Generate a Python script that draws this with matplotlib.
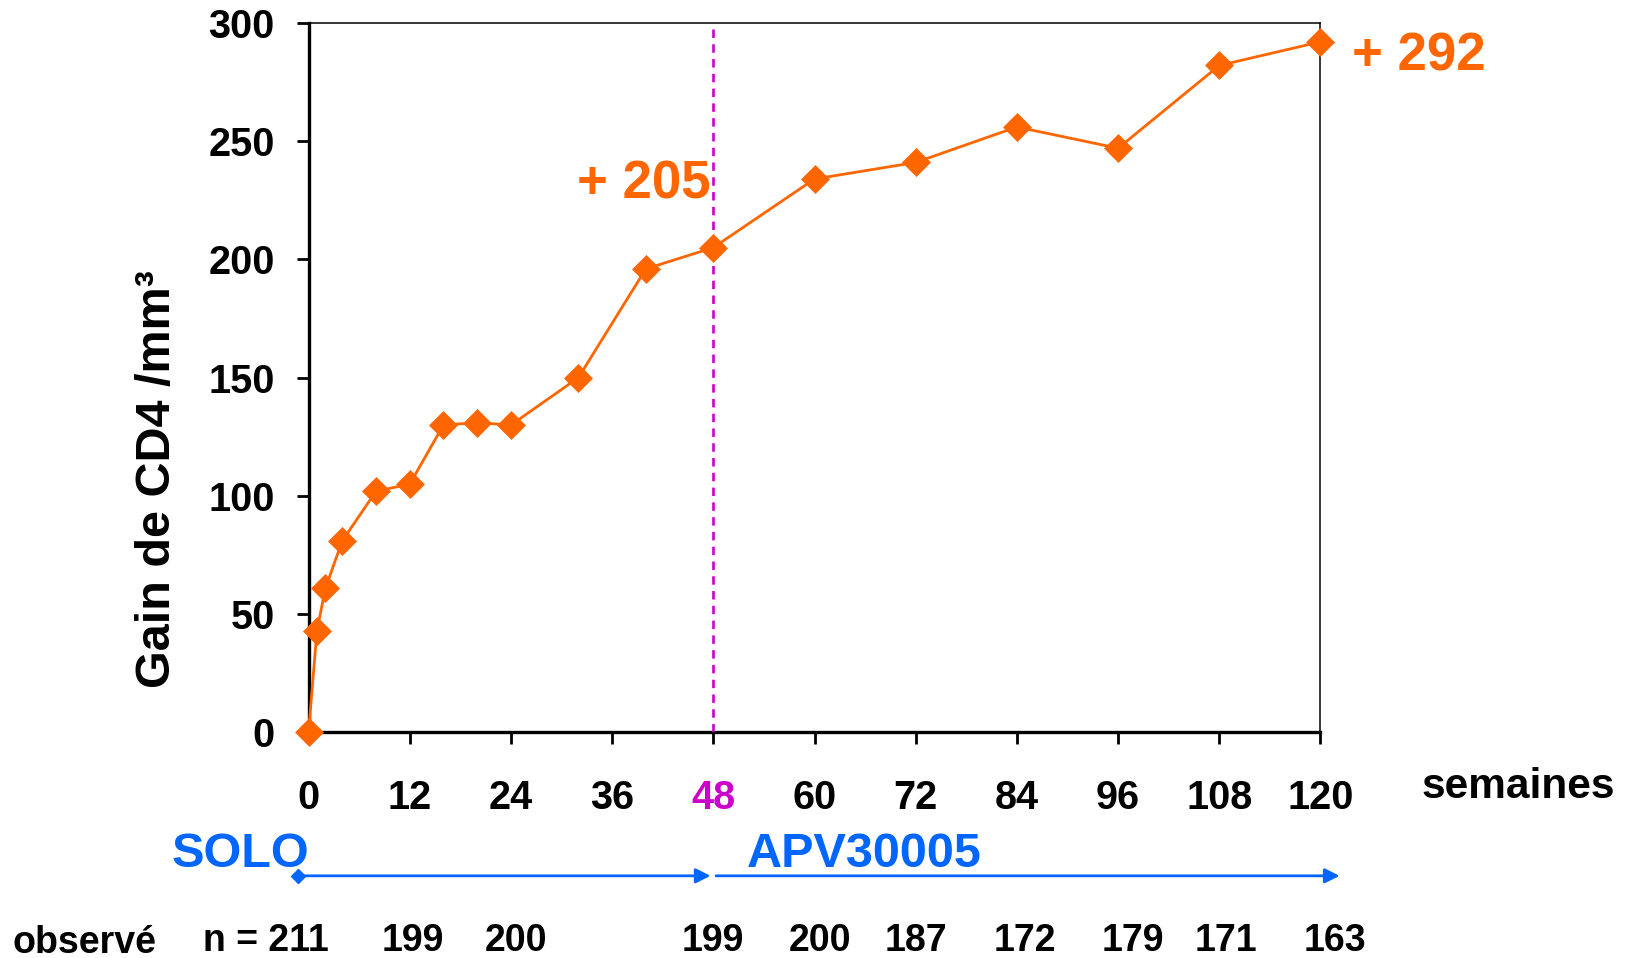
import numpy as np
import matplotlib
matplotlib.use("Agg")
import matplotlib.pyplot as plt
import matplotlib.transforms as mtransforms

plt.rcParams['font.family'] = ['Liberation Sans', 'DejaVu Sans']
plt.rcParams['font.weight'] = 'bold'

# gain de CD4 par semaine
weeks = [0, 1, 2, 4, 8, 12, 16, 20, 24, 32, 40, 48, 60, 72, 84, 96, 108, 120]
gain = [0, 43, 61, 81, 102, 105, 130, 131, 130, 150, 196, 205, 234, 241, 256, 247, 282, 292]

xticks = [0, 12, 24, 36, 48, 60, 72, 84, 96, 108, 120]
yticks = [0, 50, 100, 150, 200, 250, 300]

# effectifs observes
n_labels = ["n = 211", "199", "200", "199", "200", "187", "172", "179", "171", "163"]
n_xpos = [-5, 12.4, 24.6, 47.9, 60.7, 72, 84.9, 97.7, 108.8, 121.7]

orange = '#FF6600'
blue = '#0066FF'
magenta = '#CC00CC'

fig = plt.figure(figsize=(16.29, 9.58), dpi=100)
ax = fig.add_axes([0.1894, 0.2354, 0.6212, 0.7407])

ax.plot(weeks, gain, color=orange, lw=2, marker='D', ms=14,
        mec=orange, mew=0.5, clip_on=False, zorder=5)
ax.axvline(48, color=magenta, ls=(0, (3.2, 2.4)), lw=1.9, zorder=3)

ax.set_xlim(0, 120)
ax.set_ylim(0, 300)
ax.set_xticks(xticks)
ax.set_yticks(yticks)
ax.tick_params(axis='both', direction='out', length=8.5, width=2,
               labelsize=28.5, color='black')
ax.tick_params(axis='x', pad=25)
ax.tick_params(axis='y', pad=16)
for lab in ax.get_xticklabels():
    lab.set_fontweight('bold')
    if lab.get_text() == '48':
        lab.set_color(magenta)
for lab in ax.get_yticklabels():
    lab.set_fontweight('bold')

ax.spines['left'].set_linewidth(2.4)
ax.spines['bottom'].set_linewidth(2.4)
ax.spines['top'].set_linewidth(1.1)
ax.spines['right'].set_linewidth(1.1)

ax.text(-0.149, 0.357, 'Gain de CD4 /mm³', fontsize=35, fontweight='bold',
        rotation=90, ha='center', va='center', transform=ax.transAxes)

ax.text(39.7, 231.5, '+ 205', color=orange, fontsize=38, fontweight='bold',
        ha='center', va='center')
ax.text(131.7, 286, '+ 292', color=orange, fontsize=38, fontweight='bold',
        ha='center', va='center', clip_on=False)

trans = mtransforms.blended_transform_factory(ax.transData, ax.transAxes)
ax.text(143.4, -0.077, 'semaines', fontsize=30.5, fontweight='bold',
        ha='center', va='center', transform=trans)

# etudes SOLO / APV30005
ax.text(-8.1, -0.172, 'SOLO', color=blue, fontsize=35, fontweight='bold',
        ha='center', va='center', transform=trans)
ax.text(65.9, -0.172, 'APV30005', color=blue, fontsize=35, fontweight='bold',
        ha='center', va='center', transform=trans)
ax.annotate('', xy=(48, -0.202), xytext=(-1.2, -0.202), xycoords=trans,
            textcoords=trans,
            arrowprops=dict(arrowstyle='-|>', color=blue, lw=2,
                            mutation_scale=22), annotation_clip=False)
ax.annotate('', xy=(122.6, -0.202), xytext=(48, -0.202), xycoords=trans,
            textcoords=trans,
            arrowprops=dict(arrowstyle='-|>', color=blue, lw=2,
                            mutation_scale=22), annotation_clip=False)
ax.plot([-1.2], [-0.202], marker='D', ms=7, color=blue, transform=trans,
        clip_on=False)

ax.text(-26.6, -0.296, 'observé', fontsize=27, fontweight='bold',
        ha='center', va='center', transform=trans)
for xp, lab in zip(n_xpos, n_labels):
    ax.text(xp, -0.294, lab, fontsize=27, fontweight='bold',
            ha='center', va='center', transform=trans)

fig.savefig('out.png', dpi=100)
